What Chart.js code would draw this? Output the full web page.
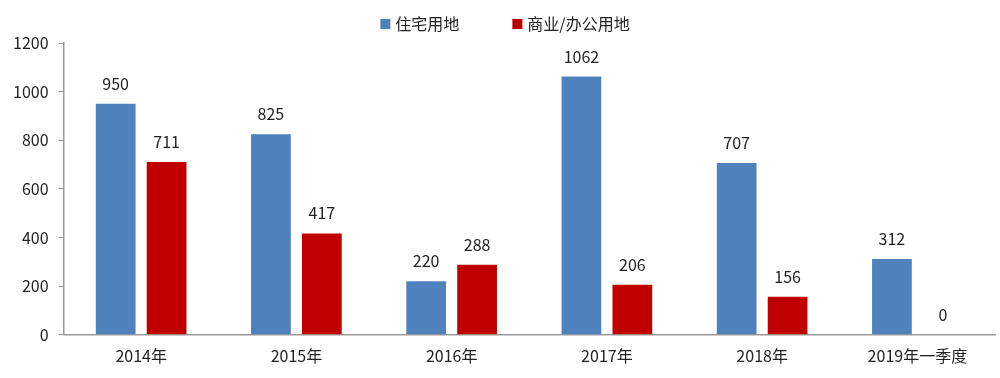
<!DOCTYPE html>
<html>
<head>
<meta charset="utf-8">
<script src="https://cdn.jsdelivr.net/npm/chart.js@4"></script>
<style>
  html, body { margin: 0; padding: 0; background: #fff; }
  #wrap { width: 1000px; height: 378px; }
</style>
</head>
<body>
<div id="wrap"><canvas id="chartLand"></canvas></div>
<script>
// 年份
const years = ['2014年', '2015年', '2016年', '2017年', '2018年', '2019年一季度'];
// 住宅用地
const residential = [950, 825, 220, 1062, 707, 312];
// 商业/办公用地
const commercial = [711, 417, 288, 206, 156, 0];

const fontFamily = '"Noto Sans CJK SC", "Noto Sans", sans-serif';

// 柱顶数值
const barValues = {
    id: 'barValues',
    afterDatasetsDraw(chart) {
        const ctx = chart.ctx;
        ctx.save();
        ctx.font = '16px ' + fontFamily;
        ctx.fillStyle = '#222';
        ctx.textAlign = 'center';
        ctx.textBaseline = 'middle';
        chart.data.datasets.forEach((ds, i) => {
            chart.getDatasetMeta(i).data.forEach((bar, j) => {
                ctx.fillText(ds.data[j], bar.x, bar.y - 20);
            });
        });
        ctx.restore();
    }
};

// 顶部图例（自己画，间距跟原图一样）
const topLegend = {
    id: 'topLegend',
    afterDraw(chart) {
        const ctx = chart.ctx;
        const items = chart.data.datasets;
        const box = 10, gapText = 5, gapItem = 53, y = 24;
        ctx.save();
        ctx.font = '16px ' + fontFamily;
        ctx.textBaseline = 'middle';
        ctx.textAlign = 'left';
        const widths = items.map(ds => box + gapText + ctx.measureText(ds.label).width);
        const total = widths.reduce((a, b) => a + b, 0) + gapItem * (items.length - 1);
        let x = (chart.width - total) / 2 + 5;
        items.forEach((ds, i) => {
            ctx.fillStyle = ds.backgroundColor;
            ctx.fillRect(x, y - box / 2, box, box);
            ctx.fillStyle = '#222';
            ctx.fillText(ds.label, x + box + gapText, y);
            x += widths[i] + gapItem;
        });
        ctx.restore();
    }
};

const ctx = document.getElementById('chartLand').getContext('2d');
new Chart(ctx, {
    type: 'bar',
    data: {
        labels: years,
        datasets: [
            {
                label: '住宅用地',
                data: residential,
                backgroundColor: '#4F81BD',
                categoryPercentage: 0.656,
                barPercentage: 0.78
            },
            {
                label: '商业/办公用地',
                data: commercial,
                backgroundColor: '#C00000',
                categoryPercentage: 0.656,
                barPercentage: 0.78
            }
        ]
    },
    options: {
        responsive: true,
        maintainAspectRatio: false,
        animation: false,
        layout: {
            padding: { left: 3, right: 5, top: 43, bottom: 0 }
        },
        plugins: {
            legend: { display: false },
            tooltip: { enabled: false }
        },
        scales: {
            x: {
                grid: { drawOnChartArea: false, drawTicks: false },
                border: { color: '#999', width: 1.5 },
                ticks: {
                    color: '#222',
                    padding: 12,
                    font: { size: 16, family: fontFamily }
                }
            },
            y: {
                min: 0,
                max: 1200,
                grid: { drawOnChartArea: false, drawTicks: true, tickLength: 5, color: '#999' },
                border: { color: '#999', width: 1.5 },
                ticks: {
                    stepSize: 200,
                    color: '#222',
                    padding: 10,
                    font: { size: 16, family: fontFamily },
                    callback: v => String(v)
                }
            }
        }
    },
    plugins: [barValues, topLegend]
});
</script>
</body>
</html>
